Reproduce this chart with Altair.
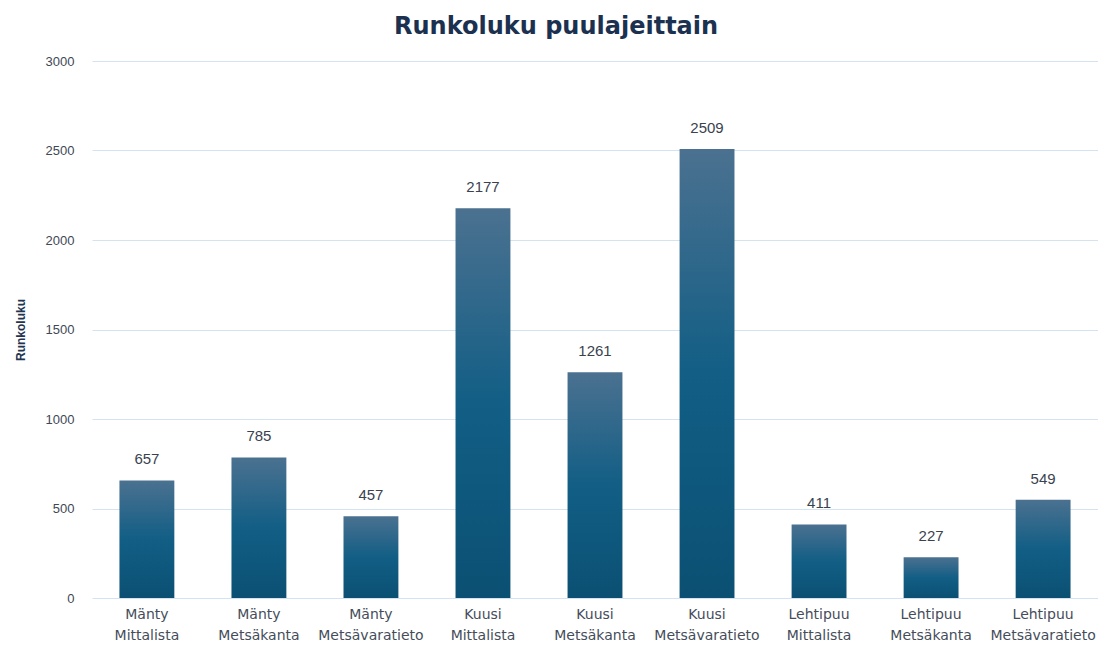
import altair as alt
import pandas as pd

species = ["Mänty", "Mänty", "Mänty", "Kuusi", "Kuusi", "Kuusi", "Lehtipuu", "Lehtipuu", "Lehtipuu"]
sources = ["Mittalista", "Metsäkanta", "Metsävaratieto"] * 3
values = [657, 785, 457, 2177, 1261, 2509, 411, 227, 549]

df = pd.DataFrame({
    "key": [f"{s}|{src}" for s, src in zip(species, sources)],
    "value": values,
})
order = list(df["key"])

grad = alt.Gradient(
    gradient="linear",
    stops=[
        alt.GradientStop(color="#4b7190", offset=0),
        alt.GradientStop(color="#125e85", offset=0.5),
        alt.GradientStop(color="#0b5073", offset=1),
    ],
    x1=0, x2=0, y1=0, y2=1,
)

x = alt.X(
    "key:N", sort=order, title=None,
    scale=alt.Scale(paddingInner=0.51, paddingOuter=0.245),
    axis=alt.Axis(
        labelExpr="split(datum.value, '|')",
        labelAngle=0, labelFontSize=14, labelColor="#454d5a", labelFont="DejaVu Sans",
        labelLineHeight=21, labelPadding=9, ticks=False, domain=False, grid=False,
    ),
)

bars = alt.Chart(df).mark_bar(color=grad).encode(
    x=x,
    y=alt.Y(
        "value:Q", title="Runkoluku",
        scale=alt.Scale(domain=[0, 3000], nice=False),
        axis=alt.Axis(
            values=[0, 500, 1000, 1500, 2000, 2500, 3000], format="d",
            labelFontSize=13, labelColor="#404855", labelFont="Liberation Sans", labelPadding=18,
            titleFontSize=12, titleFont="Liberation Sans", titleFontWeight="bold", titleColor="#1f3550",
            titlePadding=18,
            ticks=False, domain=False, gridColor="#d3e3f2", gridWidth=1,
        ),
    ),
)

text = alt.Chart(df).mark_text(
    dy=-13, fontSize=15, color="#3a4250", font="Liberation Sans", baseline="bottom"
).encode(
    x=alt.X("key:N", sort=order),
    y="value:Q",
    text="value:Q",
)

chart = (bars + text).properties(
    width=1006, height=537,
    title=alt.TitleParams(
        "Runkoluku puulajeittain", fontSize=24, font="DejaVu Sans", fontWeight="bold",
        color="#1c3150", anchor="middle", frame="bounds", offset=16,
    ),
    autosize=alt.AutoSizeParams(type="none"),
    padding={"left": 84, "top": 53, "right": 0, "bottom": 44},
).configure_view(stroke=None)

chart.save("out.html", embed_options={"renderer": "svg", "actions": False})
